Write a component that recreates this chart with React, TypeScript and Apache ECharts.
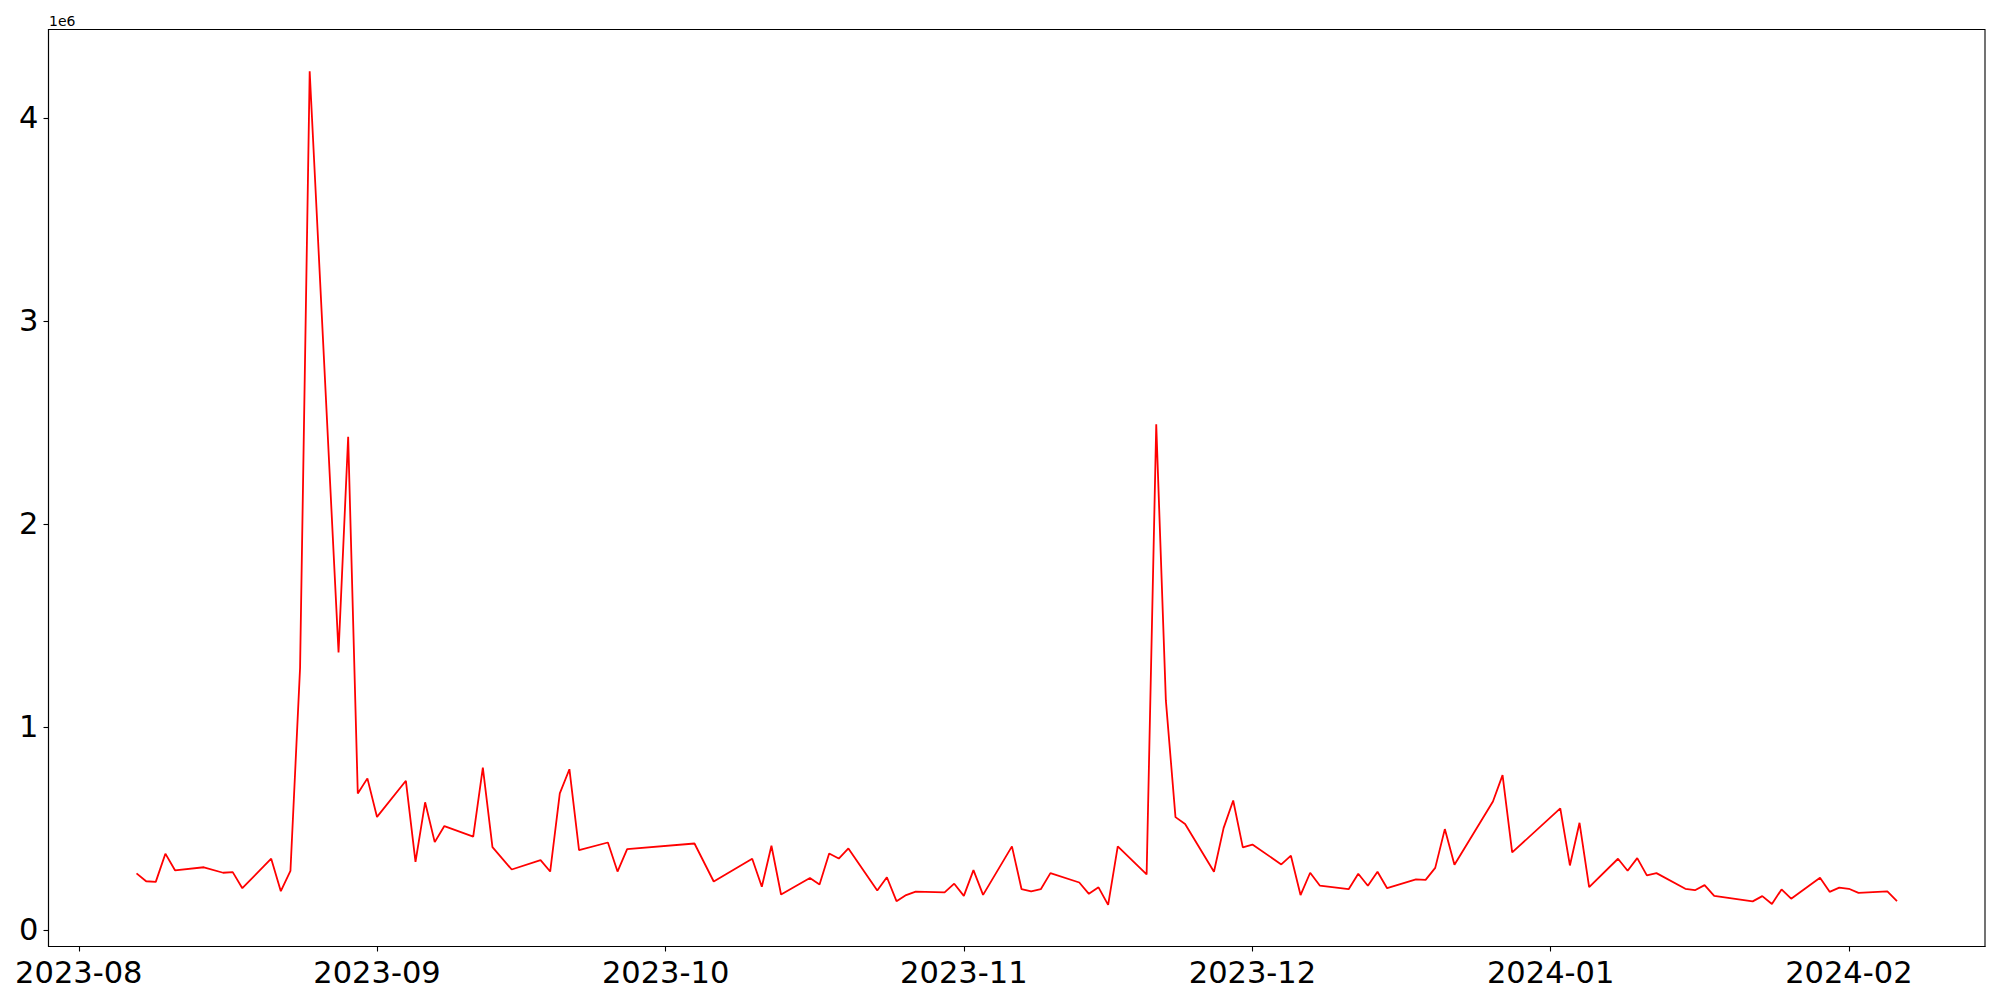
import React, { useEffect, useRef } from "react";
import * as echarts from "echarts";

const dates: string[] = [
  "2023-08-07","2023-08-08","2023-08-09","2023-08-10","2023-08-11","2023-08-14","2023-08-16","2023-08-17","2023-08-18",
  "2023-08-21","2023-08-22","2023-08-23","2023-08-24","2023-08-25","2023-08-28","2023-08-29","2023-08-30","2023-08-31",
  "2023-09-01","2023-09-04","2023-09-05","2023-09-06","2023-09-07","2023-09-08","2023-09-11","2023-09-12","2023-09-13",
  "2023-09-15","2023-09-18","2023-09-19","2023-09-20","2023-09-21","2023-09-22","2023-09-25","2023-09-26","2023-09-27",
  "2023-10-04","2023-10-06","2023-10-10","2023-10-11","2023-10-12","2023-10-13","2023-10-16","2023-10-17","2023-10-18",
  "2023-10-19","2023-10-20","2023-10-23","2023-10-24","2023-10-25","2023-10-26","2023-10-27","2023-10-30","2023-10-31",
  "2023-11-01","2023-11-02","2023-11-03","2023-11-06","2023-11-07","2023-11-08","2023-11-09","2023-11-10","2023-11-13",
  "2023-11-14","2023-11-15","2023-11-16","2023-11-17","2023-11-20","2023-11-21","2023-11-22","2023-11-23","2023-11-24",
  "2023-11-27","2023-11-28","2023-11-29","2023-11-30","2023-12-01","2023-12-04","2023-12-05","2023-12-06","2023-12-07",
  "2023-12-08","2023-12-11","2023-12-12","2023-12-13","2023-12-14","2023-12-15","2023-12-18","2023-12-19","2023-12-20",
  "2023-12-21","2023-12-22","2023-12-26","2023-12-27","2023-12-28","2024-01-02","2024-01-03","2024-01-04","2024-01-05",
  "2024-01-08","2024-01-09","2024-01-10","2024-01-11","2024-01-12","2024-01-15","2024-01-16","2024-01-17","2024-01-18",
  "2024-01-22","2024-01-23","2024-01-24","2024-01-25","2024-01-26","2024-01-29","2024-01-30","2024-01-31","2024-02-01",
  "2024-02-02","2024-02-05","2024-02-06",
];

const values: number[] = [
  278000, 239000, 236000, 375000, 293000, 308000, 281000, 284000, 205000,
  350000, 190000, 290000, 1290000, 4230000, 1366000, 2429000, 671000, 746000,
  556000, 734000, 335000, 628000, 432000, 511000, 459000, 799000, 407000,
  297000, 343000, 287000, 672000, 791000, 392000, 430000, 287000, 397000,
  425000, 238000, 350000, 212000, 414000, 174000, 255000, 223000, 376000,
  351000, 401000, 194000, 259000, 141000, 171000, 188000, 184000, 227000,
  167000, 294000, 172000, 411000, 200000, 189000, 200000, 279000, 233000,
  177000, 209000, 123000, 411000, 273000, 2490000, 1130000, 555000, 521000,
  286000, 501000, 637000, 406000, 420000, 322000, 365000, 171000, 281000,
  218000, 200000, 276000, 217000, 286000, 205000, 248000, 246000, 305000,
  496000, 320000, 632000, 762000, 381000, 598000, 317000, 527000, 210000,
  350000, 291000, 353000, 268000, 279000, 202000, 195000, 220000, 167000,
  140000, 166000, 127000, 199000, 153000, 256000, 187000, 208000, 202000,
  182000, 189000, 141000,
];

const xTickMonths: string[] = ["2023-08", "2023-09", "2023-10", "2023-11", "2023-12", "2024-01", "2024-02"];
const yTicks: number[] = [0, 1000000, 2000000, 3000000, 4000000];

const DAY = 86400000;
const toTs = (s: string) => {
  const [y, m, d] = s.split("-").map(Number);
  return Date.UTC(y, m - 1, d || 1);
};

export default function App() {
  const ref = useRef<HTMLDivElement>(null);
  useEffect(() => {
    if (!ref.current) return;
    const chart = echarts.init(ref.current, null, { renderer: "svg" });
    const first = toTs(dates[0]);
    const last = toTs(dates[dates.length - 1]);
    const pad = (last - first) * 0.05;
    const vmin = Math.min(...values);
    const vmax = Math.max(...values);
    const vpad = (vmax - vmin) * 0.05;
    const font = "DejaVu Sans";
    chart.setOption({
      animation: false,
      backgroundColor: "#ffffff",
      grid: {
        left: 48.5,
        right: 15,
        top: 29.5,
        bottom: 53.5,
        show: true,
        borderColor: "#000000",
        borderWidth: 1.1,
        backgroundColor: "transparent",
      },
      graphic: [
        {
          type: "text",
          left: 49,
          top: 14,
          style: { text: "1e6", font: `14px '${font}'`, fill: "#000000" },
        },
      ],
      xAxis: {
        type: "value",
        min: first - pad,
        max: last + pad,
        splitLine: { show: false },
        axisLine: { show: true, onZero: false, lineStyle: { color: "#000", width: 1.1 } },
        axisTick: {
          show: true,
          length: 5,
          lineStyle: { color: "#000", width: 1.1 },
          customValues: xTickMonths.map(toTs),
        },
        axisLabel: {
          show: true,
          margin: 10,
          fontSize: 30.5,
          fontFamily: font,
          color: "#000",
          customValues: xTickMonths.map(toTs),
          formatter: (v: number) => {
            const d = new Date(v);
            const m = d.getUTCMonth() + 1;
            return `${d.getUTCFullYear()}-${m < 10 ? "0" + m : m}`;
          },
        },
      },
      yAxis: {
        type: "value",
        min: vmin - vpad,
        max: vmax + vpad,
        splitLine: { show: false },
        axisLine: { show: true, onZero: false, lineStyle: { color: "#000", width: 1.1 } },
        axisTick: {
          show: true,
          length: 5,
          lineStyle: { color: "#000", width: 1.1 },
          customValues: yTicks,
        },
        axisLabel: {
          show: true,
          margin: 10,
          fontSize: 30.5,
          fontFamily: font,
          color: "#000",
          customValues: yTicks,
          formatter: (v: number) => `${Math.round(v / 1e6)}`,
        },
      },
      series: [
        {
          type: "line",
          data: dates.map((d, i) => [toTs(d), values[i]]),
          showSymbol: false,
          symbol: "none",
          lineStyle: { color: "#ff0000", width: 1.8 },
          itemStyle: { color: "#ff0000" },
        },
      ],
    });
    return () => chart.dispose();
  }, []);
  return (
    <div
      ref={ref}
      style={{ position: "fixed", left: 0, top: 0, width: 2000, height: 1000, background: "#fff" }}
    />
  );
}
